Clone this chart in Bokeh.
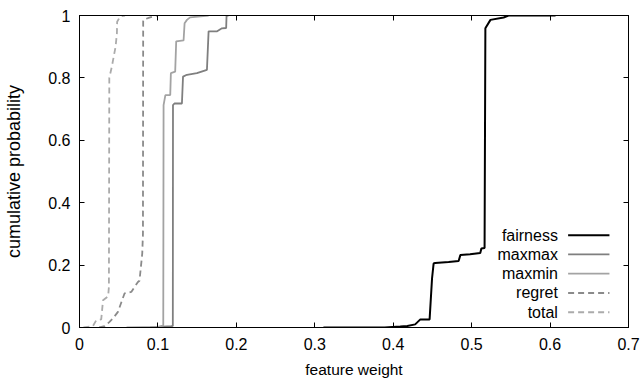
from bokeh.plotting import figure
from bokeh.models import LinearAxis, FixedTicker, Label, Arrow, Range1d
from bokeh.embed import file_html
from bokeh.resources import INLINE

# ---- data ----
fairness_x = [0.311, 0.389, 0.409, 0.418, 0.428, 0.4346, 0.4464, 0.4495, 0.4515, 0.4535,
              0.4707, 0.4834, 0.4856, 0.498, 0.511, 0.5124, 0.5165, 0.5175, 0.524, 0.5408,
              0.547, 0.607]
fairness_y = [0.0, 0.0, 0.003, 0.005, 0.01, 0.026, 0.026, 0.157, 0.205, 0.207,
              0.21, 0.213, 0.232, 0.235, 0.239, 0.253, 0.255, 0.959, 0.986, 0.9936,
              0.9997, 1.0]

maxmax_x = [0.09, 0.117, 0.119, 0.1192, 0.121, 0.1306, 0.132, 0.137, 0.1497, 0.1625,
            0.1646, 0.175, 0.1816, 0.187, 0.1875, 0.19]
maxmax_y = [0.0, 0.004, 0.005, 0.713, 0.718, 0.718, 0.804, 0.81, 0.815, 0.826,
            0.949, 0.949, 0.959, 0.96, 1.0, 1.0]

maxmin_x = [0.06, 0.100, 0.105, 0.1068, 0.1072, 0.1095, 0.1157, 0.1165, 0.122, 0.1233,
            0.1327, 0.134, 0.137, 0.141, 0.1646]
maxmin_y = [0.0, 0.002, 0.005, 0.006, 0.713, 0.745, 0.745, 0.815, 0.82, 0.917,
            0.92, 0.975, 0.986, 0.994, 1.0]

regret_x = [0.025, 0.032, 0.0383, 0.0426, 0.049, 0.0574, 0.066, 0.0745, 0.0765, 0.080,
            0.0809, 0.0812, 0.090, 0.0987]
regret_y = [0.0, 0.004, 0.018, 0.029, 0.05, 0.109, 0.114, 0.146, 0.15, 0.237,
            0.30, 0.986, 0.994, 1.0]

total_x = [0.005, 0.017, 0.0213, 0.0277, 0.030, 0.0365, 0.0375, 0.0380, 0.0413, 0.0460,
           0.0477, 0.0480, 0.052, 0.058]
total_y = [0.0, 0.004, 0.023, 0.026, 0.0875, 0.10, 0.13, 0.80, 0.837, 0.90,
           0.943, 0.98, 0.997, 1.0]

series_names = ["fairness", "maxmax", "maxmin", "regret", "total"]

x_ticks = [0, 0.1, 0.2, 0.3, 0.4, 0.5, 0.6, 0.7]
x_tick_labels = ["0", "0.1", "0.2", "0.3", "0.4", "0.5", "0.6", "0.7"]
y_ticks = [0, 0.2, 0.4, 0.6, 0.8, 1]
y_tick_labels = ["0", "0.2", "0.4", "0.6", "0.8", "1"]

x_title = "feature weight"
y_title = "cumulative probability"

# ---- styles ----
FONT = "Liberation Sans"
styles = {
    "fairness": dict(color="#000000", width=2.0, dash="solid"),
    "maxmax": dict(color="#7f7f7f", width=1.8, dash="solid"),
    "maxmin": dict(color="#a3a3a3", width=1.8, dash="solid"),
    "regret": dict(color="#8a8a8a", width=1.8, dash="6 4"),
    "total": dict(color="#ababab", width=1.8, dash="6 4"),
}
data = {
    "fairness": (fairness_x, fairness_y),
    "maxmax": (maxmax_x, maxmax_y),
    "maxmin": (maxmin_x, maxmin_y),
    "regret": (regret_x, regret_y),
    "total": (total_x, total_y),
}

p = figure(width=642, height=382, x_range=Range1d(0, 0.7), y_range=Range1d(0, 1),
           output_backend="svg", toolbar_location=None,
           min_border_left=79, min_border_right=14, min_border_top=15, min_border_bottom=55)
p.xgrid.visible = False
p.ygrid.visible = False
p.outline_line_color = "black"
p.outline_line_width = 1
p.background_fill_color = "white"
p.border_fill_color = "white"

def style_axis(ax, ticks, labels, show_labels=True):
    ax.ticker = FixedTicker(ticks=ticks)
    ax.minor_tick_line_color = None
    ax.major_tick_in = 5
    ax.major_tick_out = 0
    ax.axis_line_color = "black"
    ax.major_tick_line_color = "black"
    ax.major_label_text_font = FONT
    ax.axis_label_text_font = FONT
    ax.axis_label_text_font_style = "normal"
    ax.axis_label_text_color = "black"
    if show_labels:
        ax.major_label_overrides = {t: l for t, l in zip(ticks, labels)}
        ax.major_label_text_color = "black"
        ax.major_label_text_font_size = "16px"
        ax.axis_label_text_font_size = "16px"
    else:
        ax.major_label_text_color = None
        ax.major_label_text_font_size = "1px"
        ax.major_label_standoff = 0

xa = p.xaxis[0]
ya = p.yaxis[0]
style_axis(xa, x_ticks, x_tick_labels)
style_axis(ya, y_ticks, y_tick_labels)
xa.axis_label = x_title
ya.axis_label = y_title
xa.axis_label_text_font_size = "15.5px"
ya.axis_label_text_font_size = "18px"
xa.major_label_standoff = 10
ya.major_label_standoff = 9
xa.axis_label_standoff = 8
ya.axis_label_standoff = 21

top = LinearAxis()
right = LinearAxis()
style_axis(top, x_ticks, x_tick_labels, show_labels=False)
style_axis(right, y_ticks, y_tick_labels, show_labels=False)
p.add_layout(top, "above")
p.add_layout(right, "right")

for name in series_names:
    xs, ys = data[name]
    st = styles[name]
    p.line(xs, ys, line_color=st["color"], line_width=st["width"], line_dash=st["dash"])

# gnuplot-style key: text right-aligned, sample line on the right
key_text_x = 0.610
key_line_x0 = 0.623
key_line_x1 = 0.6757
key_y0 = 0.296
key_dy = 0.0618
for i, name in enumerate(series_names):
    st = styles[name]
    yy = key_y0 - i * key_dy
    p.add_layout(Label(x=key_text_x, y=yy, text=name, text_align="right",
                       text_baseline="middle", text_font=FONT, text_font_size="16px",
                       text_color="black"))
    p.add_layout(Arrow(x_start=key_line_x0, y_start=yy, x_end=key_line_x1, y_end=yy,
                       start=None, end=None, line_color=st["color"],
                       line_width=st["width"], line_dash=st["dash"]))

open("out.html", "w").write(file_html(p, INLINE))
